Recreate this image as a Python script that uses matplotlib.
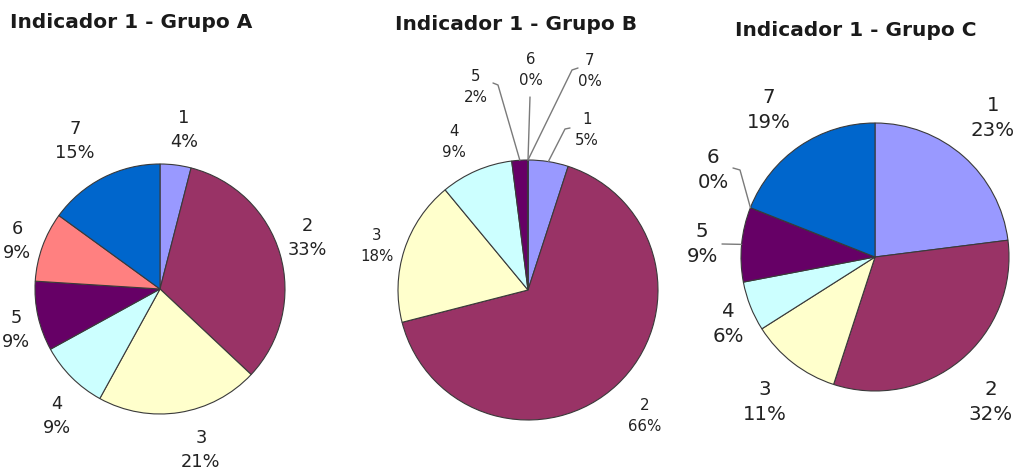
import numpy as np
import matplotlib
matplotlib.use("Agg")
import matplotlib.pyplot as plt

# Answer categories and the share (%) of each group
categories = ["1", "2", "3", "4", "5", "6", "7"]
grupo_a = [4, 33, 21, 9, 9, 9, 15]
grupo_b = [5, 66, 18, 9, 2, 0, 0]
grupo_c = [23, 32, 11, 6, 9, 0, 19]
titles = ["Indicador 1 - Grupo A", "Indicador 1 - Grupo B", "Indicador 1 - Grupo C"]

colors = ["#9999FF", "#993366", "#FFFFCC", "#CCFFFF", "#660066", "#FF8080", "#0066CC"]

W, H = 1022, 475
fig = plt.figure(figsize=(W / 100, H / 100), dpi=100)
ax = fig.add_axes([0, 0, 1, 1])


def P(x, y):
    """Pixel position (origin top-left) -> axes data coordinates."""
    return x, H - y


# layout of each panel: pie centre, radius, font sizes, label centres, leader elbows
panels = [
    dict(values=grupo_a, center=(160, 289), r=125, title_xy=(131, 22), fs=12.8, ls=1.45,
         labels={0: (184, 130), 1: (307, 238), 2: (201, 450), 3: (57, 416),
                 4: (16, 330), 5: (17, 241), 6: (75, 141)},
         leaders={}),
    dict(values=grupo_b, center=(528, 290), r=130, title_xy=(516, 25), fs=10.8, ls=1.55,
         labels={0: (587, 130), 1: (645, 416), 2: (377, 246), 3: (454, 142),
                 4: (476, 87), 5: (531, 70), 6: (590, 71)},
         leaders={0: [(570, 128), (565, 129)],
                  4: [(493, 83), (498, 85)],
                  5: [(530, 97)],
                  6: [(578, 68), (572, 70)]}),
    dict(values=grupo_c, center=(875, 257), r=134, title_xy=(856, 30), fs=14.2, ls=1.45,
         labels={0: (993, 118), 1: (991, 402), 2: (765, 402), 3: (728, 324),
                 4: (702, 244), 5: (713, 170), 6: (769, 110)},
         leaders={4: [(722, 244)],
                  5: [(733, 168), (740, 170)]}),
]

for panel, title in zip(panels, titles):
    vals = panel["values"]
    cx, cy = P(*panel["center"])
    r = panel["r"]
    ax.pie(vals, colors=colors, center=(cx, cy), radius=r, startangle=90,
           counterclock=False,
           wedgeprops=dict(edgecolor="#3a3a3a", linewidth=0.8))

    # leader lines run from an elbow near the label to the slice's mid point on the rim
    frac = np.array(vals, dtype=float) / np.sum(vals)
    start = np.concatenate([[0], np.cumsum(frac)[:-1]])
    mid = (start + frac / 2) * 2 * np.pi
    for i, pts in panel["leaders"].items():
        ex = cx + r * np.sin(mid[i])
        ey = cy + r * np.cos(mid[i])
        xs = [P(*p)[0] for p in pts] + [ex]
        ys = [P(*p)[1] for p in pts] + [ey]
        ax.plot(xs, ys, color="#7a7a7a", lw=1.0, solid_capstyle="round", zorder=3)

    for i, (lx, ly) in panel["labels"].items():
        tx, ty = P(lx, ly)
        ax.text(tx, ty, f"{categories[i]}\n{vals[i]}%", ha="center", va="center",
                fontsize=panel["fs"], family="DejaVu Sans", color="#222222",
                linespacing=panel["ls"], multialignment="center")

    tx, ty = P(*panel["title_xy"])
    ax.text(tx, ty, title, ha="center", va="center", fontsize=14.5,
            family="DejaVu Sans", fontweight="bold", color="#1a1a1a")

ax.set_xlim(0, W)
ax.set_ylim(0, H)
ax.set_aspect("auto")
ax.axis("off")
fig.savefig("out.png", dpi=100, facecolor="white")
